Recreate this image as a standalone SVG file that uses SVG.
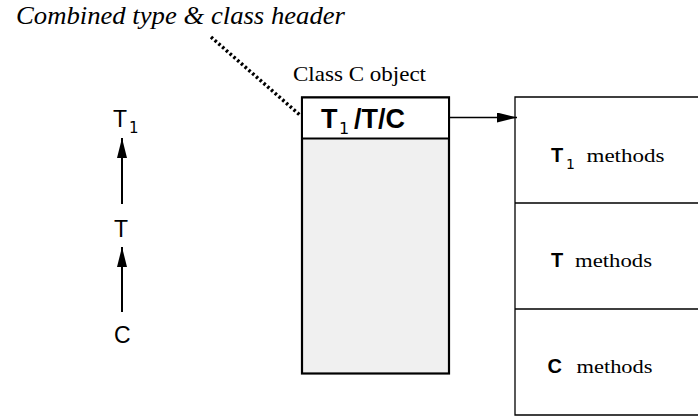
<svg xmlns="http://www.w3.org/2000/svg" width="698" height="417" viewBox="0 0 698 417">
<defs>
<style>
.serif{font-family:"Liberation Serif","Times New Roman",serif;fill:#000}
.sans{font-family:"Liberation Sans",Arial,sans-serif;fill:#000}
.sub{font-family:"DejaVu Sans","Liberation Sans",sans-serif;font-weight:normal;fill:#000}
.b{font-weight:bold}
.ln{stroke:#000;fill:none}
.body{stroke:#000;fill:#f0f0f0}
.head{stroke:#000;fill:#fff}
</style>
<marker id="ah" markerWidth="20" markerHeight="10" refX="20" refY="5" orient="auto" markerUnits="userSpaceOnUse">
<path d="M0,0 L20,5 L0,10 Z" fill="#000"/>
</marker>
</defs>
<rect width="698" height="417" fill="#fff"/>
<text class="serif" x="16" y="24" font-size="25" font-style="italic" textLength="329" lengthAdjust="spacingAndGlyphs">Combined type &amp; class header</text>
<g id="hier-T1"><text class="sans" x="113" y="127" font-size="23">T</text><text class="sub" x="129" y="133" font-size="15">1</text></g>
<g id="hier-T"><text class="sans" x="114" y="237" font-size="23">T</text></g>
<g id="hier-C"><text class="sans" x="114" y="343" font-size="23">C</text></g>
<g id="object">
<text class="serif" x="293" y="81" font-size="21" textLength="133" lengthAdjust="spacingAndGlyphs">Class C object</text>
<rect x="302" y="97.5" width="147" height="276" class="body" stroke-width="2.2"/>
<rect x="302" y="97.5" width="147" height="41" class="head" stroke-width="2"/>
<text class="sans b" x="321" y="128" font-size="27">T</text>
<text class="sub" x="339" y="134" font-size="16">1</text>
<text class="sans b" x="354" y="128" font-size="27">/T/C</text>
</g>
<g id="methods">
<path d="M700,97 H515 V415 H700 M515,203 H700 M515,309 H700" class="ln" stroke-width="1.3"/>
<text class="sans b" x="551" y="162" font-size="20">T</text>
<text class="sub" x="566" y="169" font-size="14">1</text>
<text class="serif" x="586.5" y="162" font-size="19" textLength="78" lengthAdjust="spacingAndGlyphs">methods</text>
<text class="sans b" x="551" y="267" font-size="20">T</text>
<text class="serif" x="575" y="267" font-size="19" textLength="77" lengthAdjust="spacingAndGlyphs">methods</text>
<text class="sans b" x="547.5" y="373" font-size="20">C</text>
<text class="serif" x="576.5" y="373" font-size="19" textLength="76" lengthAdjust="spacingAndGlyphs">methods</text>
</g>
<g id="connectors">
<line x1="122" y1="204" x2="122" y2="138" stroke="#000" stroke-width="2" marker-end="url(#ah)"/>
<line x1="122" y1="312" x2="122" y2="247" stroke="#000" stroke-width="2" marker-end="url(#ah)"/>
<line x1="449" y1="117.5" x2="517" y2="117.5" stroke="#000" stroke-width="1.5" marker-end="url(#ah)"/>
<line x1="211" y1="37" x2="301" y2="116" stroke="#000" stroke-width="3.5" stroke-dasharray="2.5 2.5"/>
</g>
</svg>
